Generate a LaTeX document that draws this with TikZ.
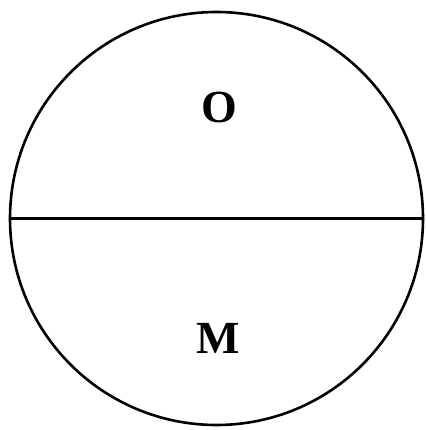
\documentclass[tikz,border=0pt]{standalone}
\usepackage{fontspec}
\setmainfont{Liberation Serif}
\begin{document}
\begin{tikzpicture}[x=1pt,y=-1pt,
  outline/.style={draw=black,line width=2.6pt},
  lbl/.style={font=\fontsize{46}{50}\selectfont\bfseries,inner sep=0pt,anchor=center}]
\useasboundingbox (0,0) rectangle (425,430);
\node[outline,circle,minimum size=413pt,inner sep=0pt] (c) at (216.5,218.5) {};
\draw[outline] (c.west) -- (c.east);
\node[lbl] (o) at (219,107) {O};
\node[lbl] (m) at (218,338) {M};
\end{tikzpicture}
\end{document}
